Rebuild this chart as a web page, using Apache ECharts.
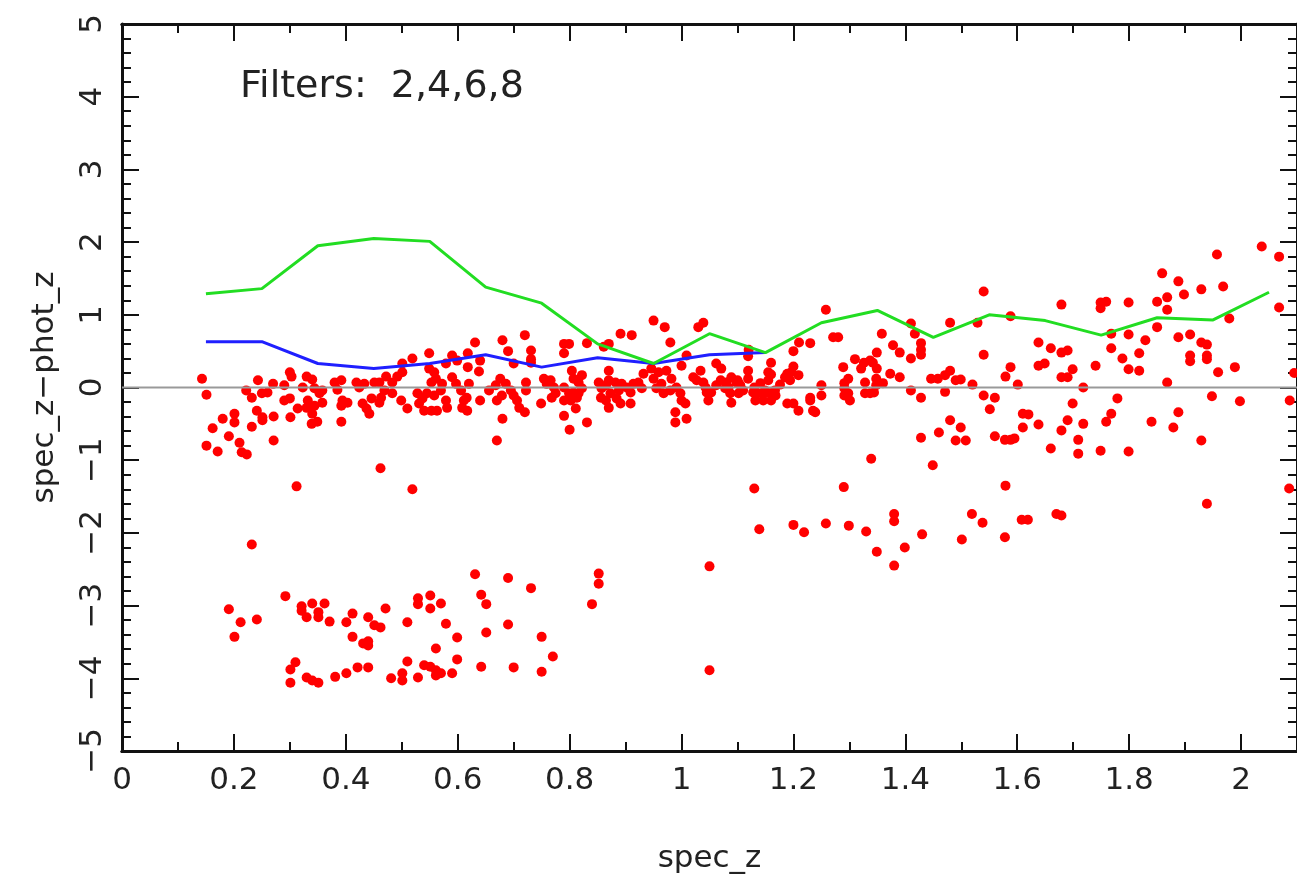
<!DOCTYPE html>
<html>
<head>
<meta charset="utf-8">
<script src="https://cdn.jsdelivr.net/npm/echarts@6/dist/echarts.min.js"></script>
<style>html,body{margin:0;padding:0;background:#fff;}#c{width:1297px;height:882px;}</style>
</head>
<body>
<div id="c"></div>
<script>
// ---- data (spec_z, spec_z - phot_z) ----
const bandLeft = [
[0.143,0.12],[0.151,-0.10],[0.243,0.10],[0.270,0.05],[0.222,-0.04],[0.232,-0.14],[0.250,-0.08],[0.260,-0.07],[0.300,0.21],[0.303,0.15],[0.290,0.03],[0.300,-0.15],[0.290,-0.18],[0.314,-0.29],[0.330,0.15],[0.340,0.11],[0.323,0.00],[0.344,-0.01],[0.353,-0.08],[0.358,-0.04],[0.332,-0.18],[0.330,-0.28],[0.344,-0.25],[0.358,-0.21],[0.340,-0.36],[0.349,-0.47],[0.339,-0.50],[0.380,0.07],[0.392,0.10],[0.385,-0.03],[0.394,-0.18],[0.392,-0.25],[0.403,-0.21],[0.392,-0.47],[0.419,0.07],[0.424,0.00],[0.433,0.05],[0.451,0.07],[0.460,0.07],[0.472,0.15],[0.430,-0.22],[0.437,-0.29],[0.442,-0.36],[0.446,-0.15],[0.463,-0.14],[0.469,-0.04],[0.460,-0.21],[0.483,0.07],[0.492,0.15],[0.501,0.21],[0.501,0.33],[0.499,-0.18],[0.510,-0.29],[0.483,-0.08],[0.519,0.40],[0.528,-0.08],[0.537,-0.15],[0.531,-0.22],[0.540,-0.32],[0.553,-0.32],[0.563,-0.32],[0.549,0.47],[0.549,0.26],[0.558,0.21],[0.561,0.12],[0.553,0.07],[0.545,-0.08],[0.558,-0.11],[0.570,-0.04],[0.579,-0.18],[0.590,0.44],[0.599,0.37],[0.579,0.33],[0.590,0.14],[0.581,-0.28],[0.572,0.05],[0.597,0.05],[0.606,-0.04],[0.611,-0.18],[0.618,0.47],[0.618,0.28],[0.608,-0.28],[0.617,-0.32],
[0.191,-0.67],[0.201,-0.36],[0.201,-0.48],[0.180,-0.43],[0.162,-0.56],[0.151,-0.80],[0.171,-0.88],[0.210,-0.76],[0.214,-0.89],[0.223,-0.92],[0.232,-0.54],[0.241,-0.32],[0.251,-0.41],[0.251,-0.45],[0.271,-0.40],[0.271,-0.73],[0.301,-0.41],[0.462,-1.11]
];
const bandMid = [
[0.670,-0.73],[0.680,-0.43],[0.720,0.72],[0.680,0.65],[0.690,0.50],[0.631,0.62],[0.638,0.22],[0.731,0.51],[0.731,0.39],[0.700,0.33],
[0.731,0.34],[0.640,0.37],[0.620,0.05],[0.616,-0.14],[0.640,-0.18],[0.656,-0.04],[0.668,0.03],[0.676,0.12],[0.679,-0.11],[0.686,0.05],[0.695,-0.04],[0.700,-0.11],[0.706,-0.18],[0.670,-0.18],[0.710,-0.28],[0.722,0.07],[0.722,-0.04],[0.720,-0.34],[0.749,-0.22],[0.754,0.12],[0.759,0.05],[0.766,0.10],[0.772,0.00],[0.768,-0.14],[0.775,-0.08],[0.790,0.60],[0.799,0.60],[0.790,0.47],[0.804,0.23],[0.807,0.12],[0.816,0.07],[0.822,0.17],[0.790,0.00],[0.799,-0.08],[0.807,-0.07],[0.816,-0.08],[0.822,-0.01],[0.790,-0.18],[0.802,-0.18],[0.813,-0.14],[0.811,-0.29],[0.790,-0.39],[0.800,-0.58],[0.831,0.61],[0.831,-0.48],[0.852,0.07],[0.857,-0.01],[0.865,0.03],[0.870,0.23],[0.870,0.10],[0.856,-0.14],[0.865,-0.18],[0.873,-0.08],[0.870,-0.28],[0.861,0.56],[0.870,0.60],[0.882,0.07],[0.888,-0.04],[0.893,0.05],[0.902,0.00],[0.909,-0.07],[0.914,0.05],[0.923,0.07],[0.929,-0.01],[0.891,0.74],[0.911,0.72],[0.884,-0.15],[0.891,-0.22],[0.909,-0.22],[0.932,0.19],[0.946,0.26],[0.950,0.12],[0.955,-0.01],[0.959,0.21],[0.964,0.05],[0.968,-0.08],[0.950,0.92],[0.970,0.83],[0.980,0.62],[0.973,0.23],[0.982,0.12],[0.980,-0.04],[0.991,0.00],[0.998,-0.08],[0.989,-0.34],[0.989,-0.48],[1.009,-0.43],[1.000,0.30],[1.009,0.44],[1.000,-0.18],[1.007,-0.22],[1.030,0.83],[1.039,0.89],[1.021,0.14],[1.027,0.10],[1.034,0.23],[1.039,0.07],[1.043,0.00],[1.045,-0.07],[1.062,0.33],[1.071,0.26],[1.048,-0.18],[1.053,-0.07],[1.062,0.03],[1.070,0.10],[1.078,-0.01],[1.080,0.07],[1.087,-0.08],[1.089,-0.21],[1.098,0.07],[1.105,0.03],
[1.120,0.52],[1.155,0.21],[1.155,0.10],[1.089,0.14],[1.084,0.00],[1.100,0.10],[1.110,-0.04],[1.130,0.00],[1.137,-0.08],[1.149,-0.04],[1.158,-0.08],[1.167,-0.04],[1.185,0.14],[1.194,0.10],[1.196,0.21],[1.230,-0.18],[1.235,-0.32]
];
const bandRight = [
[1.540,1.32],[1.258,1.07],[1.410,0.88],[1.417,0.74],[1.480,0.89],[1.529,0.89],[1.588,0.98],[1.271,0.69],[1.280,0.69],[1.358,0.74],[1.210,0.62],[1.230,0.61],[1.378,0.58],[1.390,0.48],[1.428,0.61],[1.428,0.52],[1.428,0.45],[1.200,0.50],[1.349,0.48],[1.540,0.45],[1.119,0.43],[1.310,0.39],[1.326,0.34],[1.337,0.37],[1.342,0.34],[1.410,0.40],[1.160,0.34],[1.200,0.29],[1.289,0.28],[1.321,0.26],[1.349,0.26],[1.373,0.19],[1.588,0.28],[1.119,0.23],[1.119,0.12],[1.160,0.18],[1.189,0.19],[1.209,0.17],[1.298,0.12],[1.291,0.06],[1.328,0.07],[1.348,0.12],[1.348,0.03],[1.360,0.06],[1.390,0.14],[1.446,0.12],[1.458,0.12],[1.471,0.17],[1.480,0.23],[1.490,0.10],[1.499,0.11],[1.520,0.04],[1.579,0.15],[1.102,0.06],[1.102,-0.08],[1.141,0.06],[1.128,-0.07],[1.150,-0.07],[1.168,-0.11],[1.176,0.04],[1.132,-0.18],[1.146,-0.18],[1.160,-0.18],[1.250,0.03],[1.250,-0.11],[1.291,-0.01],[1.291,-0.11],[1.301,-0.18],[1.298,-0.08],[1.328,-0.08],[1.337,-0.08],[1.344,-0.07],[1.410,-0.04],[1.471,-0.06],[1.230,-0.14],[1.428,-0.14],[1.540,-0.11],[1.560,-0.14],[1.189,-0.22],[1.200,-0.22],[1.209,-0.32],[1.239,-0.34],[1.551,-0.30],[1.480,-0.45],[1.499,-0.55],[1.428,-0.69],[1.460,-0.62],[1.490,-0.73],[1.508,-0.73],[1.560,-0.67],[1.578,-0.72],[1.588,-0.72],[1.339,-0.98],[1.449,-1.07],
[2.037,1.94],[2.068,1.80],[1.957,1.83],[1.859,1.57],[1.888,1.46],[1.968,1.39],[1.929,1.35],[1.898,1.28],[1.868,1.24],[1.850,1.18],[1.868,1.07],[1.679,1.14],[1.749,1.17],[1.759,1.18],[1.749,1.09],[1.799,1.17],[2.068,1.10],[1.979,0.95],[1.850,0.83],[1.768,0.74],[1.799,0.73],[1.888,0.69],[1.909,0.73],[1.829,0.65],[1.929,0.62],[1.939,0.59],[1.638,0.62],[1.660,0.54],[1.679,0.48],[1.690,0.51],[1.768,0.54],[1.818,0.47],[1.788,0.40],[1.909,0.44],[1.909,0.36],[1.939,0.44],[1.939,0.39],[1.638,0.30],[1.649,0.33],[1.740,0.30],[1.699,0.25],[1.799,0.25],[1.818,0.23],[1.959,0.21],[1.989,0.28],[1.679,0.14],[1.690,0.14],[1.601,0.04],[1.718,0.00],[1.868,0.07],[1.948,-0.12],[1.998,-0.19],[1.779,-0.15],[2.087,-0.18],[1.699,-0.22],[1.610,-0.36],[1.620,-0.37],[1.768,-0.36],[1.759,-0.47],[1.888,-0.34],[1.690,-0.45],[1.718,-0.50],[1.638,-0.51],[1.610,-0.55],[1.840,-0.47],[1.679,-0.59],[1.879,-0.55],[1.709,-0.72],[1.929,-0.73],[1.660,-0.84],[1.709,-0.91],[1.749,-0.87],[1.799,-0.88],[1.595,-0.70],[2.095,0.20]
];
const outliersHigh = [
[1.130,-1.39],[1.290,-1.37],[1.579,-1.35],[2.086,-1.39],[1.939,-1.60],[1.519,-1.74],[1.538,-1.86],[1.608,-1.82],[1.619,-1.82],[1.670,-1.74],[1.679,-1.76],[1.380,-1.74],[1.380,-1.84],[1.139,-1.95],[1.200,-1.89],[1.219,-1.99],[1.258,-1.87],[1.299,-1.90],[1.330,-1.98],[1.430,-2.02],[1.501,-2.09],[1.578,-2.06],[1.349,-2.26],[1.399,-2.20],[1.380,-2.45],[1.050,-2.46],[0.852,-2.56],[0.852,-2.70],[1.050,-3.89]
];
const outliersLow = [
[0.312,-1.36],[0.519,-1.40],[0.232,-2.16],[0.631,-2.57],[0.690,-2.62],[0.731,-2.76],[0.840,-2.98],[0.292,-2.87],[0.191,-3.05],[0.212,-3.23],[0.241,-3.19],[0.201,-3.43],[0.321,-3.01],[0.321,-3.07],[0.340,-2.97],[0.362,-2.97],[0.330,-3.16],[0.351,-3.09],[0.351,-3.16],[0.371,-3.22],[0.401,-3.23],[0.412,-3.11],[0.440,-3.16],[0.451,-3.27],[0.462,-3.30],[0.471,-3.04],[0.412,-3.43],[0.431,-3.52],[0.440,-3.49],[0.440,-3.55],[0.510,-3.23],[0.529,-2.90],[0.529,-2.98],[0.551,-2.86],[0.551,-3.04],[0.570,-2.97],[0.579,-3.25],[0.561,-3.59],[0.599,-3.44],[0.599,-3.74],[0.642,-2.85],[0.651,-2.98],[0.651,-3.37],[0.690,-3.26],[0.750,-3.43],[0.770,-3.70],[0.310,-3.78],[0.301,-3.88],[0.301,-4.06],[0.330,-3.99],[0.340,-4.03],[0.351,-4.06],[0.381,-3.98],[0.401,-3.93],[0.421,-3.85],[0.440,-3.85],[0.481,-4.00],[0.501,-3.93],[0.501,-4.03],[0.510,-3.77],[0.529,-3.99],[0.540,-3.82],[0.551,-3.84],[0.561,-3.89],[0.570,-3.93],[0.561,-3.96],[0.590,-3.93],[0.642,-3.84],[0.700,-3.85],[0.750,-3.91]
];
const binCenters = [0.15,0.25,0.35,0.45,0.55,0.65,0.75,0.85,0.95,1.05,1.15,1.25,1.35,1.45,1.55,1.65,1.75,1.85,1.95,2.05];
const greenValues = [1.29,1.36,1.95,2.05,2.01,1.38,1.16,0.60,0.33,0.74,0.48,0.89,1.06,0.69,1.00,0.92,0.72,0.96,0.93,1.31];
const blueValues  = [0.63,0.63,0.33,0.26,0.33,0.45,0.28,0.41,0.33,0.45,0.48];
const zeroRef = [[0,0],[2.1,0]];
const annotation = 'Filters:  2,4,6,8';

const allPoints = [].concat(bandLeft, bandMid, bandRight, outliersHigh, outliersLow);
const greenLine = binCenters.map((x,i)=>[x, greenValues[i]]);
const blueLine = blueValues.map((v,i)=>[binCenters[i], v]);

const FONT = 'DejaVu Sans';
const INK = '#222';
const axisLineStyle = {color:'#111', width:3};
const tickStyle = {color:'#111', width:2};

function xAx(pos, interval, tickLen, labels, extra){
  return Object.assign({
    type:'value', min:0, max:2.1, interval:interval, position:pos,
    axisLine:{show:true, onZero:false, lineStyle:axisLineStyle},
    axisTick:{show:true, inside:true, length:tickLen, lineStyle:tickStyle},
    axisLabel:{show:labels, showMaxLabel:false, fontFamily:FONT, fontSize:31, color:INK, margin:14},
    splitLine:{show:false}
  }, extra||{});
}
function yAx(pos, labels, extra){
  return Object.assign({
    type:'value', min:-5, max:5, interval:1, position:pos,
    axisLine:{show:true, onZero:false, lineStyle:axisLineStyle},
    axisTick:{show:true, inside:true, length:17, lineStyle:tickStyle},
    minorTick:{show:true, splitNumber:5, length:9, lineStyle:tickStyle},
    axisLabel:{show:labels, rotate:90, fontFamily:FONT, fontSize:31, color:INK, margin:14,
      formatter:v=>String(v).replace('-','\u2212')},
    splitLine:{show:false}, minorSplitLine:{show:false}
  }, extra||{});
}

const chart = echarts.init(document.getElementById('c'), null, {renderer:'canvas'});
chart.setOption({
  animation:false,
  backgroundColor:'#fff',
  grid:{left:122, top:24, width:1178, height:727, containLabel:false},
  xAxis:[
    xAx('bottom',0.2,17,true,{name:'spec_z', nameLocation:'middle', nameGap:92,
      nameTextStyle:{fontFamily:FONT, fontSize:31, color:INK}}),
    xAx('bottom',0.1,9,false),
    xAx('top',0.2,17,false),
    xAx('top',0.1,9,false)
  ],
  yAxis:[
    yAx('left',true,{name:'spec_z\u2212phot_z', nameLocation:'middle', nameGap:62, nameRotate:90,
      nameTextStyle:{fontFamily:FONT, fontSize:31, color:INK}}),
    yAx('right',false)
  ],
  graphic:[{type:'text', left:240, top:68, style:{text:annotation, fontFamily:FONT, fontSize:38, fill:INK}}],
  series:[
    {type:'scatter', data:allPoints, symbol:'circle', symbolSize:10, itemStyle:{color:'#ff0000', opacity:1}, z:2},
    {type:'line', data:zeroRef, symbol:'none', lineStyle:{color:'#999', width:2}, z:3},
    {type:'line', data:blueLine, symbol:'none', lineStyle:{color:'#1f1fff', width:3}, z:4},
    {type:'line', data:greenLine, symbol:'none', lineStyle:{color:'#22dd22', width:3}, z:5}
  ]
});
</script>
</body>
</html>
